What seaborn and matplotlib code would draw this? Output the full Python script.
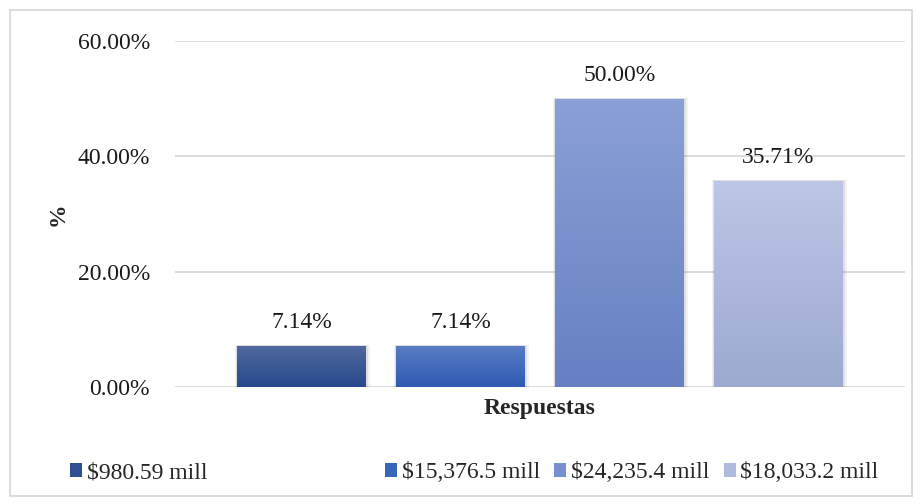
import matplotlib
matplotlib.use("Agg")
import matplotlib.pyplot as plt
from matplotlib.patches import Patch, Rectangle
from matplotlib.colors import LinearSegmentedColormap
import numpy as np
import pandas as pd
import seaborn as sns

# Data
categoria = ["Respuestas"]
rangos = ["$980.59 mill", "$15,376.5 mill", "$24,235.4 mill", "$18,033.2 mill"]
porcentajes = [7.14, 7.14, 50.00, 35.71]
yticks = [0, 20, 40, 60]

# Gradient colours for each bar (top, bottom)
grad_top = ["#51699f", "#5a7cc4", "#8ba0d6", "#bdc6e6"]
grad_bot = ["#27498c", "#2d5bb2", "#6680c2", "#9da9cf"]
solid = ["#2f5194", "#3866bb", "#7890cf", "#b0badf"]

df = pd.DataFrame({
    "cat": categoria * len(rangos),
    "rango": rangos,
    "pct": porcentajes,
})

sns.set_theme(style="white")
plt.rcParams["font.family"] = ["Liberation Serif", "DejaVu Serif"]
FS = 17

fig = plt.figure(figsize=(9.22, 5.04), dpi=100)
ax = fig.add_axes([175 / 922, 1 - 387 / 504, 730 / 922, (387 - 41) / 504])

sns.barplot(data=df, x="cat", y="pct", hue="rango", hue_order=rangos,
            palette=solid, width=0.871, gap=0.19, ax=ax, legend=False,
            saturation=1, zorder=3)

ax.set_xlim(-0.5, 0.5)
ax.set_ylim(0, 60)
ax.set_yticks(yticks)
ax.set_yticklabels([f"{v:.2f}%" for v in yticks], fontsize=FS, color="#1a1a1a")
ax.tick_params(axis="y", length=0, pad=18)
ax.set_xticks([])
ax.grid(axis="y", color="#d9d9d9", lw=1.3, zorder=0)
for s in ax.spines.values():
    s.set_visible(False)

# Vertical gradient fill clipped to each bar
bars = sorted(ax.patches, key=lambda p: p.get_x())
for i, (bar, val) in enumerate(zip(bars, porcentajes)):
    x0, w, h = bar.get_x(), bar.get_width(), bar.get_height()
    cmap = LinearSegmentedColormap.from_list(f"g{i}", [grad_bot[i], grad_top[i]])
    grad = np.linspace(0, 1, 256).reshape(-1, 1)
    # soft shadow around the bar
    for k, a in ((0.006, 0.05), (0.003, 0.08)):
        ax.add_patch(Rectangle((x0 - k * 0.5, 0), w + k * 1.5, h + 0.15,
                               facecolor="#000000", alpha=a, lw=0, zorder=2))
    im = ax.imshow(grad, cmap=cmap, origin="lower", aspect="auto",
                   extent=(x0, x0 + w, 0, h), zorder=3)
    im.set_clip_path(bar)
    bar.set_facecolor("none")
    bar.set_edgecolor("none")
    ax.text(x0 + w / 2, h + 3.1, f"{val:.2f}%", ha="center", va="baseline",
            fontsize=FS, color="#1a1a1a", zorder=4)

ax.set_xlim(-0.5, 0.5)
ax.set_ylim(0, 60)
ax.set_xlabel("Respuestas", fontsize=FS, fontweight="bold", labelpad=8)
ax.set_ylabel("%", fontsize=FS, fontweight="bold")
ax.yaxis.set_label_coords(-0.146, 0.5)

# Legend split as in the layout: first entry alone on the left
handles = [Patch(facecolor=c, edgecolor="none") for c in solid]
kw = dict(frameon=False, fontsize=FS, handlelength=0.5, handleheight=0.5,
          handletextpad=0.2, columnspacing=0.62, borderaxespad=0,
          borderpad=0)
fig.legend(handles[:1], rangos[:1], loc="center left",
           bbox_to_anchor=(70 / 922, 1 - 473 / 504), **kw)
fig.legend(handles[1:], rangos[1:], loc="center left", ncol=3,
           bbox_to_anchor=(385 / 922, 1 - 473 / 504), **kw)

# Chart outer border
fig.patches.append(Rectangle((10 / 922, 8 / 504), 902 / 922, 486 / 504,
                             transform=fig.transFigure, fill=False,
                             edgecolor="#d9d9d9", lw=1.3))

fig.savefig("out.png", dpi=100)
